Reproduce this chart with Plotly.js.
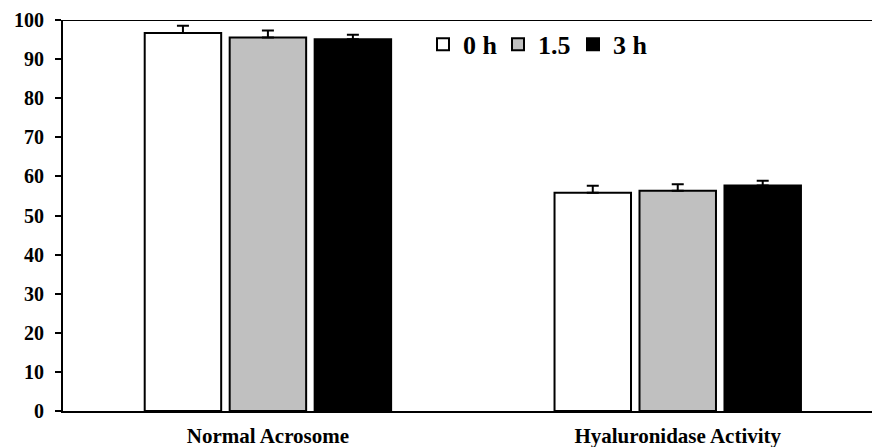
<!DOCTYPE html>
<html>
<head>
<meta charset="utf-8">
<script src="https://cdn.plot.ly/plotly-3.0.1.min.js"></script>
<style>html,body{margin:0;padding:0;background:#fff;}#chart{width:872px;height:447px;}</style>
</head>
<body>
<div id="chart"></div>
<script>
const categories = ["Normal Acrosome", "Hyaluronidase Activity"];
const seriesNames = ["0 h", "1.5", "3 h"];
const values0h = [96.7, 55.8];
const values15 = [95.5, 56.3];
const values3h = [95.1, 57.7];
const err0h = [1.8, 1.8];
const err15 = [1.8, 1.7];
const err3h = [1.1, 1.2];
const yTicks = [0, 10, 20, 30, 40, 50, 60, 70, 80, 90, 100];

const fills = ["#ffffff", "#c0c0c0", "#000000"];
const vals = [values0h, values15, values3h];
const errs = [err0h, err15, err3h];

const traces = seriesNames.map((n, i) => ({
  type: "bar",
  name: "<b>" + n + "</b>",
  x: categories,
  y: vals[i],
  marker: {color: fills[i], line: {color: "#000", width: 2}},
  error_y: {type: "data", array: errs[i], arrayminus: [0, 0], symmetric: false,
            color: "#000", thickness: 2, width: 6}
}));

const layout = {
  width: 872, height: 447,
  margin: {l: 63, r: 0, t: 20, b: 36},
  paper_bgcolor: "#fff", plot_bgcolor: "#fff",
  barmode: "group", bargap: 0.378, bargroupgap: 0.1,
  font: {family: "Liberation Serif, Times New Roman, serif", color: "#000"},
  xaxis: {type: "category", range: [-0.5, 1.474], showgrid: false, zeroline: false,
          showline: true, linecolor: "#000", linewidth: 2, ticks: "",
          ticklabelstandoff: 5,
          tickfont: {size: 21, weight: "bold"}},
  yaxis: {range: [0, 100], tickvals: yTicks, showgrid: false, zeroline: false,
          showline: true, linecolor: "#000", linewidth: 2, ticks: "outside",
          ticklen: 6, tickwidth: 2, tickcolor: "#000", ticklabelstandoff: 7,
          tickfont: {size: 20, weight: "bold"}},
  legend: {orientation: "h", x: 0.445, y: 0.998, xanchor: "left", yanchor: "top",
           font: {size: 26}, itemwidth: 30, entrywidth: 30, entrywidthmode: "pixels",
           bgcolor: "rgba(0,0,0,0)"},
  shapes: [{type: "line", xref: "paper", yref: "y", x0: 0, x1: 1, y0: 100, y1: 100,
            line: {color: "#000", width: 2}}],
  showlegend: true
};

Plotly.newPlot("chart", traces, layout, {displayModeBar: false, staticPlot: true});
</script>
</body>
</html>
